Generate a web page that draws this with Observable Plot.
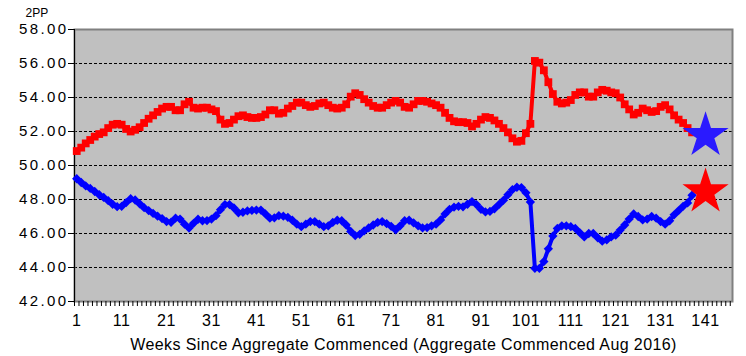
<!DOCTYPE html>
<html>
<head>
<meta charset="utf-8">
<script src="https://cdn.jsdelivr.net/npm/d3@7"></script>
<script src="https://cdn.jsdelivr.net/npm/@observablehq/plot@0.6"></script>
<style>
  html, body { margin: 0; padding: 0; background: #fff; }
  #chart { width: 746px; height: 356px; }
  g[aria-label="y-axis tick label"] text { letter-spacing: 2.4px; }
  g[aria-label="x-axis tick label"] text { letter-spacing: 0.6px; }
  g[aria-label="x-axis label"] text { letter-spacing: 0.4px; }
</style>
</head>
<body>
<div id="chart"></div>
<script>
const redValues = [50.85,51.05,51.3,51.5,51.7,51.85,51.95,52.2,52.4,52.45,52.4,52.15,52.0,52.1,52.25,52.5,52.75,52.95,53.15,53.35,
  53.45,53.45,53.25,53.25,53.6,53.75,53.4,53.35,53.4,53.4,53.3,53.2,52.7,52.45,52.5,52.7,52.9,52.95,52.85,52.8,
  52.8,52.85,53.0,53.25,53.25,53.05,53.1,53.35,53.5,53.7,53.7,53.55,53.45,53.5,53.65,53.7,53.55,53.4,53.35,53.4,
  53.6,54.05,54.25,54.15,53.9,53.7,53.5,53.4,53.4,53.55,53.7,53.8,53.7,53.45,53.4,53.6,53.8,53.8,53.75,53.65,
  53.55,53.4,53.1,52.8,52.6,52.55,52.55,52.5,52.3,52.45,52.7,52.85,52.8,52.65,52.45,52.2,51.95,51.6,51.4,51.45,
  51.9,52.45,56.15,56.05,55.6,54.9,54.2,53.75,53.65,53.7,53.85,54.15,54.3,54.3,54.05,54.05,54.3,54.45,54.4,54.3,
  54.25,54.0,53.6,53.3,53.0,53.1,53.35,53.25,53.15,53.2,53.45,53.55,53.3,52.95,52.7,52.5,52.2,51.95];
const blueValues = [49.22,49.0,48.8,48.65,48.47,48.28,48.12,47.93,47.72,47.58,47.6,47.82,48.05,47.97,47.75,47.52,47.35,47.18,47.02,46.88,
  46.7,46.66,46.9,46.85,46.55,46.32,46.6,46.84,46.75,46.76,46.85,47.05,47.4,47.7,47.7,47.5,47.22,47.25,47.33,47.36,
  47.38,47.38,47.15,46.9,46.92,47.05,47.02,46.95,46.78,46.55,46.4,46.55,46.7,46.7,46.55,46.4,46.45,46.65,46.78,46.75,
  46.5,46.12,45.88,45.95,46.15,46.33,46.5,46.65,46.7,46.58,46.42,46.22,46.45,46.75,46.78,46.62,46.45,46.33,46.35,46.45,
  46.55,46.8,47.15,47.42,47.55,47.6,47.57,47.72,47.88,47.7,47.42,47.27,47.3,47.45,47.7,47.95,48.28,48.58,48.72,48.7,
  48.4,47.85,43.95,43.95,44.35,45.1,45.85,46.3,46.45,46.45,46.4,46.3,46.05,45.8,46.0,46.0,45.75,45.55,45.62,45.8,
  45.9,46.2,46.5,46.85,47.15,47.0,46.8,46.85,47.0,46.9,46.7,46.55,46.75,47.1,47.35,47.6,47.8,48.25];
const weeks = redValues.map((_, i) => i + 1);

const starWeek = [141, 141];
const starValues = [51.77, 48.45];
const starColors = ["#2a1aff", "#ff0000"];

const yTicks = [42, 44, 46, 48, 50, 52, 54, 56, 58];
const gridValues = [44, 46, 48, 50, 52, 54, 56];
const xTickLabels = [1, 11, 21, 31, 41, 51, 61, 71, 81, 91, 101, 111, 121, 131, 141];
const xMinorTicks = d3.range(0, 147).map(k => k + 0.5);
const yLabel = "2PP";
const xTitle = "Weeks Since Aggregate Commenced (Aggregate Commenced Aug 2016)";

const red = weeks.map((w, i) => ({week: w, value: redValues[i]}));
const blue = weeks.map((w, i) => ({week: w, value: blueValues[i]}));
const stars = starWeek.map((w, i) => ({week: w, value: starValues[i], color: starColors[i]}));

const chart = Plot.plot({
  width: 746,
  height: 356,
  marginLeft: 74,
  marginRight: 14,
  marginTop: 29,
  marginBottom: 55,
  style: {fontFamily: "'Liberation Sans', Arial, sans-serif", fontSize: "15px", color: "#000", background: "#fff"},
  x: {domain: [0.5, 147], type: "linear"},
  y: {domain: [42, 58]},
  marks: [
    Plot.frame({fill: "#c0c0c0", stroke: null}),
    Plot.ruleY(gridValues, {stroke: "#000", strokeWidth: 1, strokeDasharray: "3,2"}),
    Plot.frame({stroke: "#808080", strokeWidth: 2, fill: "none"}),
    Plot.ruleX([0.5], {stroke: "#000", strokeWidth: 1}),
    Plot.axisY({ticks: yTicks, tickFormat: d => d.toFixed(2), tickSize: 6, tickPadding: 0, fontSize: 15, label: null, stroke: "#000"}),
    Plot.axisX({ticks: xMinorTicks, tickSize: 5, tickFormat: () => "", label: null, stroke: "#000"}),
    Plot.axisX({ticks: xTickLabels, tickSize: 0, tickPadding: 13, fontSize: 16, tickFormat: d => String(d),
      label: xTitle, labelAnchor: "center", labelArrow: "none", labelOffset: 48}),
    Plot.text([yLabel], {frameAnchor: "top-left", dx: -49, dy: -21, fontSize: 12, textAnchor: "start"}),
    Plot.line(red, {x: "week", y: "value", stroke: "#ff0000", strokeWidth: 4}),
    Plot.dot(red, {x: "week", y: "value", symbol: "square", r: 4.4, fill: "#ff0000"}),
    Plot.line(blue, {x: "week", y: "value", stroke: "#0000ff", strokeWidth: 4}),
    Plot.dot(blue, {x: "week", y: "value", symbol: "diamond2", r: 4.2, fill: "#0000ff"}),
    Plot.dot(stars, {x: "week", y: "value", symbol: "star", r: 14.5, fill: "color"})
  ]
});
document.getElementById("chart").appendChild(chart);
</script>
</body>
</html>
